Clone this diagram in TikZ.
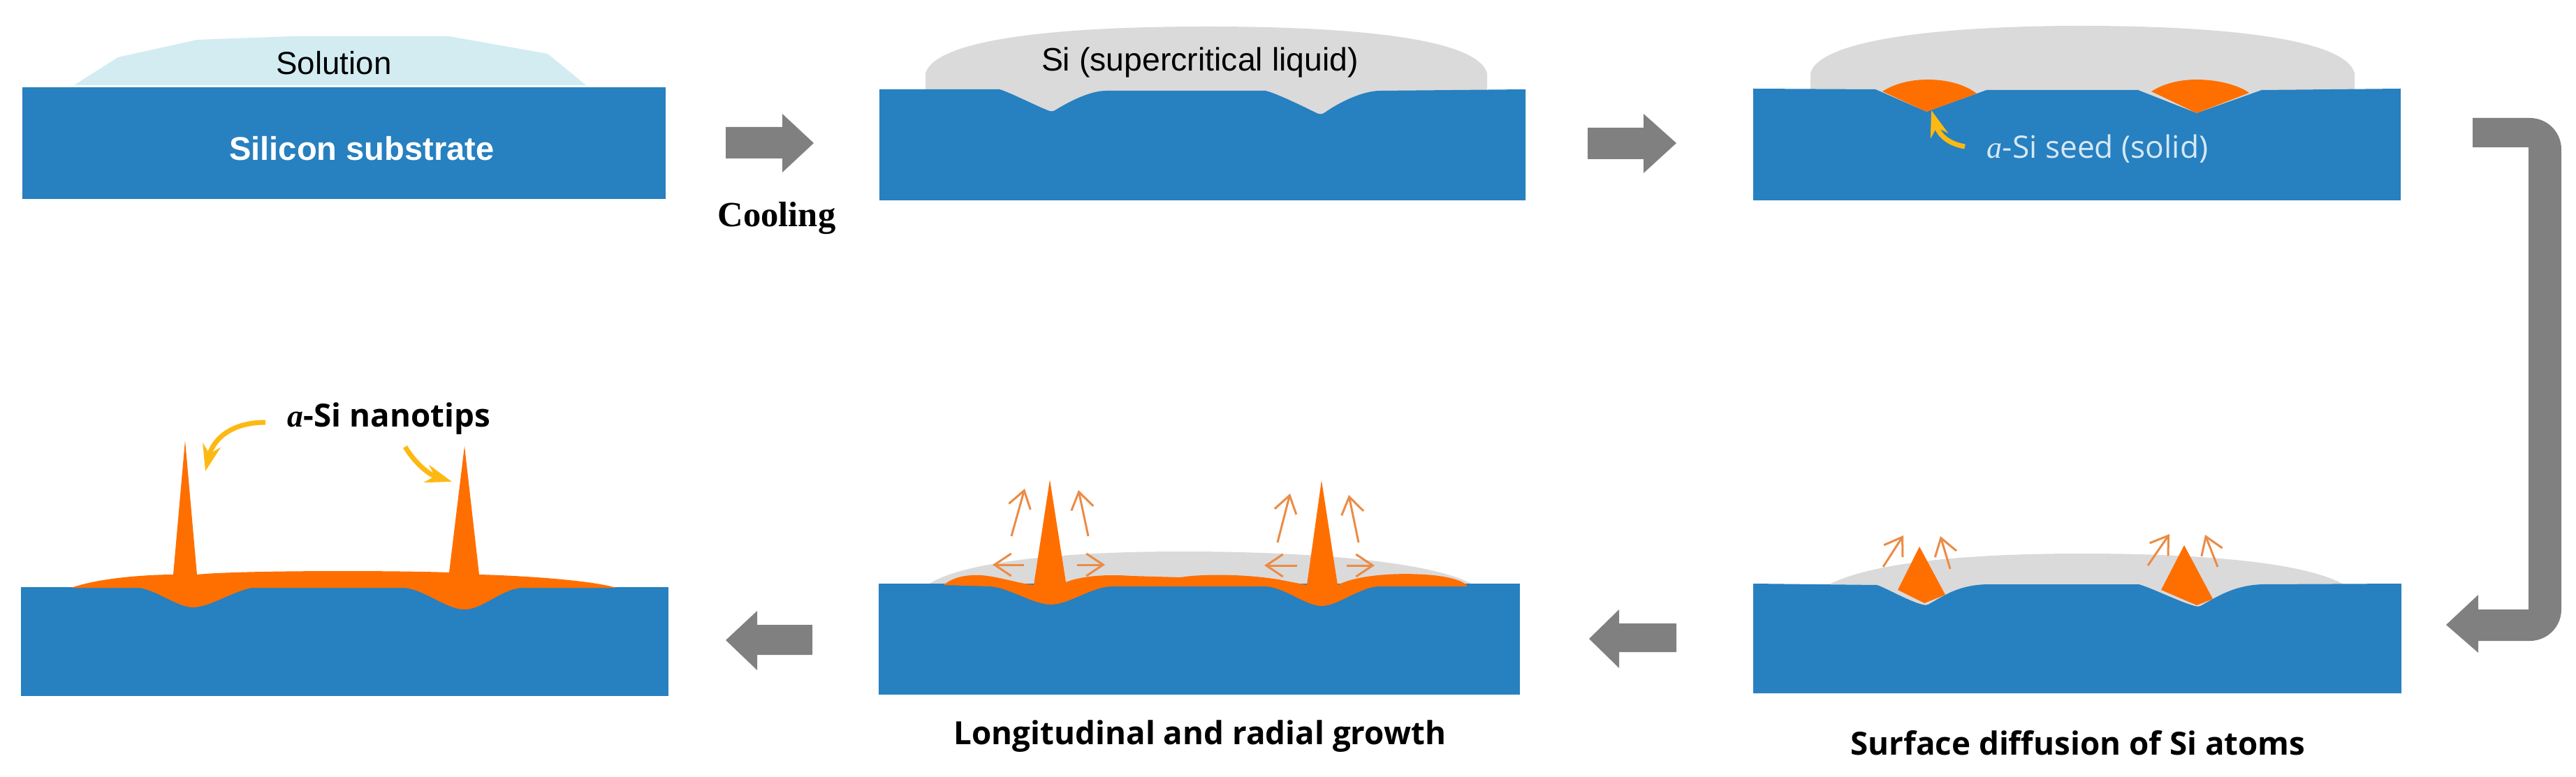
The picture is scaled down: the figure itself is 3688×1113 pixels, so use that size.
\documentclass[tikz,border=0pt]{standalone}
\usepackage{fontspec}
\usetikzlibrary{arrows.meta}
\setmainfont{Liberation Sans}
\setsansfont{Liberation Sans}
\newfontfamily\tnrfont{Liberation Serif}
\newfontfamily\capfont{Open Sans}
\definecolor{siblue}{HTML}{2780BF}
\definecolor{tiporange}{HTML}{FF6F00}
\definecolor{domegray}{HTML}{DADADA}
\definecolor{flowgray}{HTML}{808080}
\definecolor{solblue}{HTML}{D2ECF2}
\definecolor{calloutyellow}{HTML}{FDB913}
\definecolor{growthorange}{HTML}{EC8B45}
\definecolor{seedtext}{HTML}{D5E8F5}

\begin{document}
\begin{tikzpicture}[x = 0.01cm, y = -0.01cm, font=\sffamily]
	\tikzstyle{subStyle} = [fill = siblue]
	\tikzstyle{domeStyle} = [fill = domegray]
	\tikzstyle{tipStyle} = [fill = tiporange]
	\tikzstyle{flowStyle} = [fill = flowgray]
	\tikzstyle{growthStyle} = [draw = growthorange, line width = 0.03cm, -{Straight Barb[length = 0.24cm, width = 0.32cm]}]
	\tikzstyle{calloutStyle} = [draw = calloutyellow, line width = 0.07cm, -{Stealth[length = 0.38cm, width = 0.26cm]}]
	\tikzstyle{labelStyle} = [inner sep = 0pt]
	\useasboundingbox (0, 0) rectangle (3688, 1113);
	% top row
	\fill[fill = solblue] (106, 122) -- (169, 82) -- (282, 57) -- (416, 52) -- (643, 52) -- (784, 77) -- (839, 122) -- cycle;
	\fill[subStyle] (32, 125) rectangle (953, 285);
	\node[labelStyle, font = \fontsize{13}{15}\selectfont] (solution) at (478, 90) {Solution};
	\node[labelStyle, font = \fontsize{13.4}{15}\selectfont\bfseries, white] (silicon) at (518, 213) {Silicon substrate};

	\fill[domeStyle] (1325, 175) -- (1325, 105) .. controls (1340, 55) and (1520, 38) .. (1727, 38) .. controls (1940, 38) and (2115, 55) .. (2129, 105) -- (2129, 175) -- cycle;
	\fill[subStyle] (1259, 128) -- (1431, 128) .. controls (1445, 132) and (1480, 150) .. (1500, 158) .. controls (1504, 160) and (1508, 160) .. (1512, 157) .. controls (1530, 146) and (1560, 130) .. (1584, 130) -- (1812, 130) .. controls (1828, 134) and (1865, 152) .. (1885, 162) .. controls (1889, 164) and (1893, 164) .. (1897, 161) .. controls (1915, 148) and (1950, 130) .. (1976, 130) -- (2184, 128) -- (2184, 287) -- (1259, 287) -- cycle;
	\node[labelStyle, font = \fontsize{13.2}{15}\selectfont] (liquid) at (1718, 90) {Si (supercritical liquid)};

	\fill[domeStyle] (2592, 175) -- (2592, 105) .. controls (2605, 55) and (2790, 37) .. (2980, 37) .. controls (3180, 37) and (3358, 55) .. (3371, 105) -- (3371, 175) -- cycle;
	\fill[subStyle] (2510, 127) -- (2685, 128) -- (2758, 160) -- (2844, 129) -- (3061, 129) -- (3145, 162) -- (3238, 129) -- (3437, 127) -- (3437, 287) -- (2510, 287) -- cycle;
	\fill[tipStyle] (2695, 131) .. controls (2715, 118) and (2740, 114) .. (2760, 114) .. controls (2785, 114) and (2812, 120) .. (2830, 134) -- (2758, 160) -- cycle;
	\fill[tipStyle] (3080, 131) .. controls (3100, 118) and (3125, 114) .. (3145, 114) .. controls (3170, 114) and (3202, 120) .. (3220, 133) -- (3145, 162) -- cycle;
	\node[labelStyle, font = \fontsize{12.6}{15}\selectfont\capfont, seedtext] (seed) at (3003, 213) {{\tnrfont\itshape a}-Si seed (solid)};
	\coordinate (seedtail) at (2813, 210);
	\coordinate (seedtip) at (2765, 158);
	\draw[calloutStyle] (seedtail) .. controls (2785, 205) and (2775, 190) .. (seedtip);

	% bottom row, right
	\fill[domeStyle] (2617, 880) -- (2617, 838) .. controls (2680, 805) and (2820, 793) .. (2980, 793) .. controls (3150, 793) and (3300, 805) .. (3357, 838) -- (3357, 880) -- cycle;
	\fill[subStyle] (2510, 836) -- (2687, 838) .. controls (2700, 842) and (2730, 860) .. (2752, 866) .. controls (2756, 867) and (2760, 867) .. (2764, 864) .. controls (2785, 852) and (2805, 838) .. (2845, 837) -- (3062, 837) .. controls (3080, 842) and (3120, 862) .. (3142, 868) .. controls (3146, 869) and (3150, 869) .. (3154, 866) .. controls (3175, 854) and (3200, 838) .. (3240, 837) -- (3438, 836) -- (3438, 993) -- (2510, 993) -- cycle;
	\fill[tipStyle] (2748, 783) -- (2717, 845) -- (2755, 864) -- (2785, 852) -- cycle;
	\fill[tipStyle] (3127, 781) -- (3094, 845) -- (3145, 867) -- (3168, 858) -- cycle;
	\node[labelStyle, font = \fontsize{13}{15}\selectfont\capfont\bfseries] (surface) at (2975, 1064) {Surface diffusion of Si atoms};

	% bottom row, middle
	\fill[domeStyle] (1325, 840) .. controls (1370, 805) and (1520, 790) .. (1692, 790) .. controls (1880, 790) and (2060, 805) .. (2113, 840) -- cycle;
	\fill[subStyle] (1258, 836) -- (2176, 836) -- (2176, 995) -- (1258, 995) -- cycle;
	\fill[tipStyle] (1351, 838) .. controls (1365, 826) and (1385, 823) .. (1405, 824) .. controls (1430, 826) and (1455, 835) .. (1480, 838) -- (1503, 687) -- (1526, 834) .. controls (1545, 826) and (1580, 822) .. (1620, 825) -- (1690, 827) .. controls (1720, 822) and (1780, 822) .. (1830, 830) -- (1871, 838) -- (1892, 688) -- (1915, 838) .. controls (1940, 825) and (1990, 820) .. (2040, 823) .. controls (2070, 825) and (2090, 830) .. (2100, 838) -- (2100, 840) -- (1973, 840) .. controls (1945, 842) and (1915, 868) .. (1892, 868) .. controls (1870, 868) and (1840, 842) .. (1813, 840) -- (1590, 840) .. controls (1560, 842) and (1530, 866) .. (1504, 866) .. controls (1480, 866) and (1445, 842) .. (1418, 840) -- cycle;
	\node[labelStyle, font = \fontsize{13}{15}\selectfont\capfont\bfseries] (longitudinal) at (1718, 1055) {Longitudinal and radial growth};

	% bottom row, left
	\fill[subStyle] (30, 841) -- (957, 841) -- (957, 997) -- (30, 997) -- cycle;
	\fill[tipStyle] (102, 842) .. controls (150, 825) and (230, 823) .. (248, 823) -- (265, 631) -- (282, 823) .. controls (340, 817) and (560, 817) .. (643, 820) -- (665, 639) -- (686, 823) .. controls (760, 825) and (850, 832) .. (882, 842) -- (745, 842) .. controls (715, 846) and (690, 873) .. (665, 873) .. controls (640, 873) and (610, 846) .. (580, 842) -- (361, 842) .. controls (335, 846) and (300, 870) .. (276, 870) .. controls (255, 870) and (225, 846) .. (200, 842) -- cycle;
	\node[labelStyle, font = \fontsize{13}{15}\selectfont\capfont\bfseries] (nanotips) at (557, 600) {{\tnrfont\itshape a}-Si nanotips};
	\coordinate (tipatail) at (380, 605);
	\coordinate (tipahead) at (294, 675);
	\coordinate (tipbtail) at (580, 640);
	\coordinate (tipbhead) at (647, 690);
	\draw[calloutStyle] (tipatail) .. controls (330, 605) and (305, 630) .. (tipahead);
	\draw[calloutStyle] (tipbtail) .. controls (595, 665) and (615, 680) .. (tipbhead);

	% growth arrows
	\foreach \name/\xa/\ya/\xb/\yb in {a/1448/768/1467/700, b/1558/768/1544/702, c/1829/777/1847/707, d/1945/777/1931/709, e/1466/809/1421/809, f/1542/809/1582/809, g/1857/810/1810/810, h/1928/810/1968/810, i/2696/812/2725/767, j/2792/815/2778/768, k/3075/810/3106/765, l/3175/812/3157/766}{
		\coordinate (g\name s) at (\xa, \ya);
		\coordinate (g\name e) at (\xb, \yb);
		\draw[growthStyle] (g\name s) -- (g\name e);
	}

	% flow arrows
	\node[labelStyle, font = \fontsize{14.4}{16}\selectfont\tnrfont\bfseries] (cooling) at (1112, 313) {Cooling};
	\fill[flowStyle] (1039, 182) -- (1120, 182) -- (1120, 163) -- (1165, 205) -- (1120, 247) -- (1120, 227) -- (1039, 227) -- cycle;
	\fill[flowStyle] (2273, 183) -- (2353, 183) -- (2353, 163) -- (2400, 205) -- (2353, 248) -- (2353, 228) -- (2273, 228) -- cycle;
	\fill[flowStyle] (3540, 169) -- (3622, 169) arc[start angle = 90, end angle = 0, x radius = 45, y radius = -45] -- (3667, 873) arc[start angle = 0, end angle = -90, x radius = 45, y radius = -45] -- (3548, 918) -- (3548, 935) -- (3502, 895) -- (3548, 852) -- (3548, 873) -- (3620, 873) -- (3620, 211) -- (3540, 211) -- cycle;
	\fill[flowStyle] (2400, 893) -- (2318, 893) -- (2318, 873) -- (2275, 915) -- (2318, 957) -- (2318, 934) -- (2400, 934) -- cycle;
	\fill[flowStyle] (1163, 895) -- (1084, 895) -- (1084, 875) -- (1039, 917) -- (1084, 960) -- (1084, 938) -- (1163, 938) -- cycle;
\end{tikzpicture}
\end{document}
